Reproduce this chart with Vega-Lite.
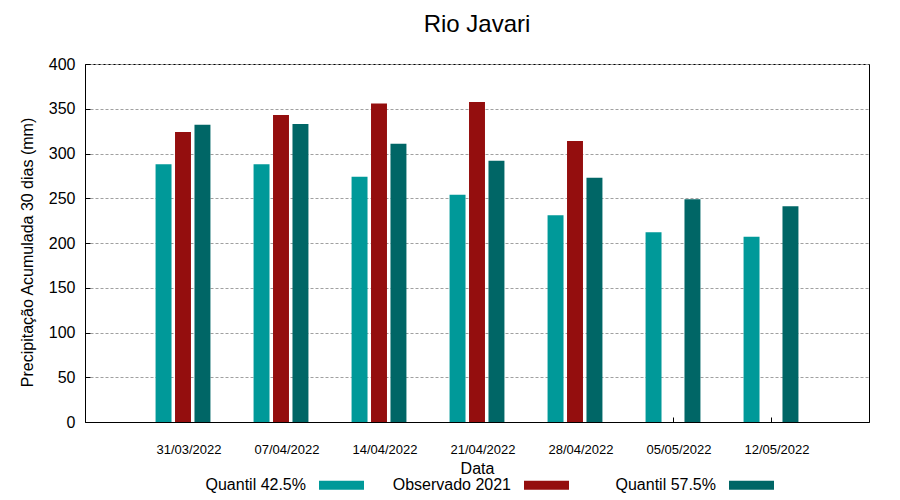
{
  "$schema": "https://vega.github.io/schema/vega-lite/v6.json",
  "width": 784,
  "height": 358,
  "autosize": {"type": "none"},
  "padding": {"left": 85, "top": 64, "right": 31, "bottom": 78},
  "background": "white",
  "title": {"text": "Rio Javari", "fontSize": 24, "font": "Liberation Sans", "fontWeight": "normal", "color": "black", "anchor": "middle", "offset": 19},
  "config": {
    "font": "Liberation Sans",
    "view": {"stroke": "black", "strokeWidth": 1}
  },
  "data": {
    "values": [
      {"date": "31/03/2022", "series": "Quantil 42.5%", "value": 288},
      {"date": "31/03/2022", "series": "Observado 2021", "value": 324},
      {"date": "31/03/2022", "series": "Quantil 57.5%", "value": 332},
      {"date": "07/04/2022", "series": "Quantil 42.5%", "value": 288},
      {"date": "07/04/2022", "series": "Observado 2021", "value": 343},
      {"date": "07/04/2022", "series": "Quantil 57.5%", "value": 333},
      {"date": "14/04/2022", "series": "Quantil 42.5%", "value": 274},
      {"date": "14/04/2022", "series": "Observado 2021", "value": 356},
      {"date": "14/04/2022", "series": "Quantil 57.5%", "value": 311},
      {"date": "21/04/2022", "series": "Quantil 42.5%", "value": 254},
      {"date": "21/04/2022", "series": "Observado 2021", "value": 357.5},
      {"date": "21/04/2022", "series": "Quantil 57.5%", "value": 292},
      {"date": "28/04/2022", "series": "Quantil 42.5%", "value": 231},
      {"date": "28/04/2022", "series": "Observado 2021", "value": 314},
      {"date": "28/04/2022", "series": "Quantil 57.5%", "value": 273},
      {"date": "05/05/2022", "series": "Quantil 42.5%", "value": 212},
      {"date": "05/05/2022", "series": "Quantil 57.5%", "value": 249},
      {"date": "12/05/2022", "series": "Quantil 42.5%", "value": 207},
      {"date": "12/05/2022", "series": "Quantil 57.5%", "value": 241}
    ]
  },
  "mark": {"type": "bar"},
  "encoding": {
    "x": {
      "field": "date", "type": "nominal", "sort": null,
      "scale": {"paddingInner": 0.44, "paddingOuter": 0.72},
      "title": "Data",
      "axis": {
        "labelAngle": 0, "labelFontSize": 13, "labelColor": "black", "labelOffset": 6,
        "labelPadding": 26, "ticks": true, "tickSize": -5, "tickColor": "black", "tickWidth": 1, "tickOpacity": 1, "domainColor": "black",
        "titleFontSize": 16, "titleFontWeight": "normal", "titleColor": "black", "titlePadding": 4,
        "grid": false
      }
    },
    "xOffset": {
      "field": "series", "type": "nominal",
      "sort": ["Quantil 42.5%", "Observado 2021", "Quantil 57.5%"],
      "scale": {"domain": ["Quantil 42.5%", "Observado 2021", "Quantil 57.5%"], "paddingInner": 0.18, "paddingOuter": 0}
    },
    "y": {
      "field": "value", "type": "quantitative",
      "scale": {"domain": [0, 400], "nice": false},
      "title": "Precipitação Acumulada 30 dias (mm)",
      "axis": {
        "values": [0, 50, 100, 150, 200, 250, 300, 350, 400],
        "labelFontSize": 16, "labelColor": "black", "labelPadding": 15,
        "ticks": true, "tickSize": -5, "tickColor": "black", "domainColor": "black",
        "grid": true, "gridColor": "#a0a0a0", "gridDash": [3, 2], "gridWidth": 1,
        "titleFontSize": 16, "titleFontWeight": "normal", "titleColor": "black", "titlePadding": 13, "titleY": 188
      }
    },
    "color": {
      "field": "series", "type": "nominal",
      "sort": ["Quantil 42.5%", "Observado 2021", "Quantil 57.5%"],
      "scale": {"domain": ["Quantil 42.5%", "Observado 2021", "Quantil 57.5%"], "range": ["#009999", "#940e0e", "#006666"]},
      "legend": {
        "title": null, "orient": "none", "legendX": 234, "legendY": 398.5,
        "direction": "horizontal", "columns": 3, "gridAlign": "all", "columnPadding": 28,
        "symbolType": "M-1,-0.2h2v0.4h-2z", "symbolSize": 2025, "symbolStrokeWidth": 0, "symbolOpacity": 1,
        "labelAlign": "right", "labelOffset": -58, "labelFontSize": 16, "labelColor": "black", "labelLimit": 300
      }
    }
  }
}
